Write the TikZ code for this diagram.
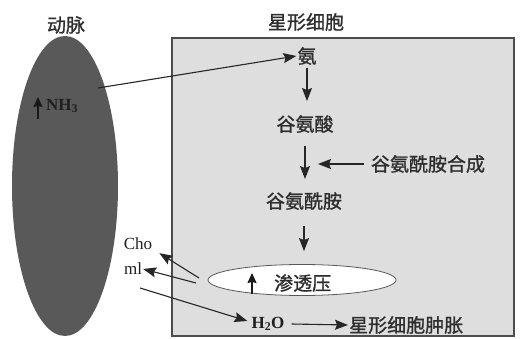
\documentclass[tikz,border=0pt]{standalone}
\usepackage{fontspec}
\setmainfont{Liberation Serif}
\newfontfamily\cjk[FakeBold=1.2]{Noto Sans CJK SC}
\usetikzlibrary{arrows.meta,shapes.geometric}
\tikzset{
  zh/.style={font=\cjk\fontsize{19}{21}\selectfont, text=black!82, inner sep=1pt},
  lat/.style={font=\fontsize{17}{19}\selectfont, text=black!88, inner sep=1pt},
  arr/.style={-{Stealth[length=13pt,width=10pt,inset=2pt]}, line width=1.1pt, draw=black!85},
  uparr/.style={-{Stealth[length=10pt,width=9pt,inset=1pt]}, line width=1.4pt, draw=black!90},
}
\begin{document}
\begin{tikzpicture}[x=1pt,y=-1pt]
\useasboundingbox (0,0) rectangle (520,339);
% artery and astrocyte
\node[ellipse, fill=black!65, minimum width=106pt, minimum height=300pt, inner sep=0pt] (artery) at (65,186) {};
\draw[fill=black!13, line width=1.3pt, draw=black!70] (172,38) rectangle (514,336);
\node[zh] (arterylab) at (66,25) {动脉};
\node[zh] (astrolab) at (306,22) {星形细胞};
% pathway
\node[zh] (nh) at (307,56) {氨};
\node[zh] (glu) at (305,124) {谷氨酸};
\node[zh] (gln) at (304,201) {谷氨酰胺};
\node[zh] (synth) at (428,164) {谷氨酰胺合成};
\coordinate (synthend) at (318,164);
\draw[arr, shorten <=2pt, shorten >=13pt] (nh.south) -- (nh.south |- glu.north);
\draw[arr, shorten <=12pt, shorten >=12pt] (glu.south) -- (glu.south |- gln.north);
\draw[arr] (synth.west) ++(-6,0) -- (synthend);
\node[ellipse, draw=black!65, line width=0.8pt, fill=white, minimum width=188pt, minimum height=31pt] (osm) at (302,280) {};
\node[zh, anchor=west] (osmlab) at (273,283) {渗透压};
\coordinate (osmup) at (252,273);
\draw[uparr] (252,294) -- (osmup);
\draw[arr, shorten <=15pt, shorten >=13pt] (gln.south) -- (osm.north -| gln.south);
% ammonia from blood
\node[lat, anchor=west, font=\bfseries\fontsize{17}{19}\selectfont] (nh3) at (45,106) {NH\textsubscript{3}};
\coordinate (nh3up) at (38,97);
\draw[uparr] (38,119) -- (nh3up);
\coordinate (nhstart) at (98,88);
\draw[arr] (nhstart) -- (nh.west);
% water and osmolytes
\node[lat, font=\bfseries\fontsize{17}{19}\selectfont] (water) at (268,324) {H\textsubscript{2}O};
\node[zh, anchor=west] (swell) at (348,325) {星形细胞肿胀};
\draw[arr] (water.east) ++(6,0) -- (swell.west);
\node[lat] (cho) at (138,244) {Cho};
\node[lat] (ml) at (133,269) {ml};
\coordinate (outa) at (199,278);
\coordinate (outb) at (196,283);
\coordinate (instart) at (140,288);
\draw[arr] (outa) -- ([xshift=6pt,yshift=-2pt]cho.south east);
\draw[arr] (outb) -- (ml.east);
\draw[arr] (instart) -- ([xshift=-3pt,yshift=3pt]water.west);
\end{tikzpicture}
\end{document}
